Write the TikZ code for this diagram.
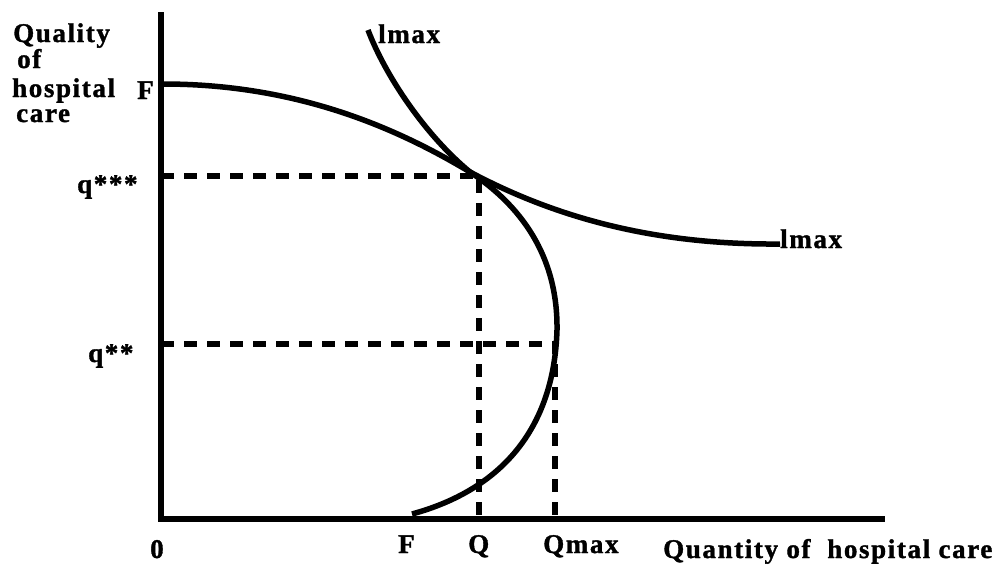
\documentclass[tikz,border=0pt]{standalone}
\usepackage{fontspec}
\setmainfont{Liberation Serif}[LetterSpace=6,BoldFeatures={FakeBold=1.3}]
\usepackage{tikz}
\usetikzlibrary{positioning}

\begin{document}
\begin{tikzpicture}[x=1pt,y=-1pt,
  axisline/.style={line width=5.5pt},
  curveline/.style={line width=5.5pt},
  guideline/.style={line width=5.5pt,dash pattern=on 13pt off 10pt},
  lbl/.style={font=\fontsize{27}{27}\selectfont\bfseries,inner sep=0pt,anchor=base west}]
\useasboundingbox (0,0) rectangle (1005,574);
\coordinate (O) at (161,519);
\coordinate (ytop) at (161,12);
\coordinate (xend) at (885,519);
\coordinate (T) at (470,172);
\coordinate (qa) at (161,176);
\coordinate (qb) at (161,344);
\coordinate (Qa) at (479,176);
\coordinate (Qb) at (555,344);
\draw[axisline] (ytop) -- (O) -- (xend);
% dashed guides
\draw[guideline] (qa) -- (Qa) -- (479,519);
\draw[guideline] (qb) -- (Qb) -- (555,519);
% curve F - lmax
\draw[curveline] (163,84) .. controls (300,84) and (400,130) .. (T)
  .. controls (560,220) and (660,245) .. (780,244);
% curve lmax - F
\draw[curveline] (368,30) .. controls (385,75) and (425,135) .. (T)
  .. controls (520,205) and (558,255) .. (557,330)
  .. controls (554,430) and (500,490) .. (412,514);
\node[lbl] (yl1) at (13,42) {Quality};
\node[lbl] (yl2) at (17,68) {of};
\node[lbl] (yl3) at (12,97) {hospital};
\node[lbl] (yl4) at (16,122) {care};
\node[lbl] (Fy) at (137,99) {F};
\node[lbl] (q3) at (77,193) {q***};
\node[lbl] (q2) at (88,362) {q**};
\node[lbl] (zero) at (150,558) {0};
\node[lbl] (Fx) at (398,553) {F};
\node[lbl] (Qx) at (468,553) {Q};
\node[lbl] (Qmx) at (543,553) {Qmax};
\node[lbl] (xl) at (663,558) {Quantity of~~hospital care};
\node[lbl] (lmtop) at (378,43) {lmax};
\node[lbl] (lmright) at (780,248) {lmax};
\end{tikzpicture}
\end{document}
